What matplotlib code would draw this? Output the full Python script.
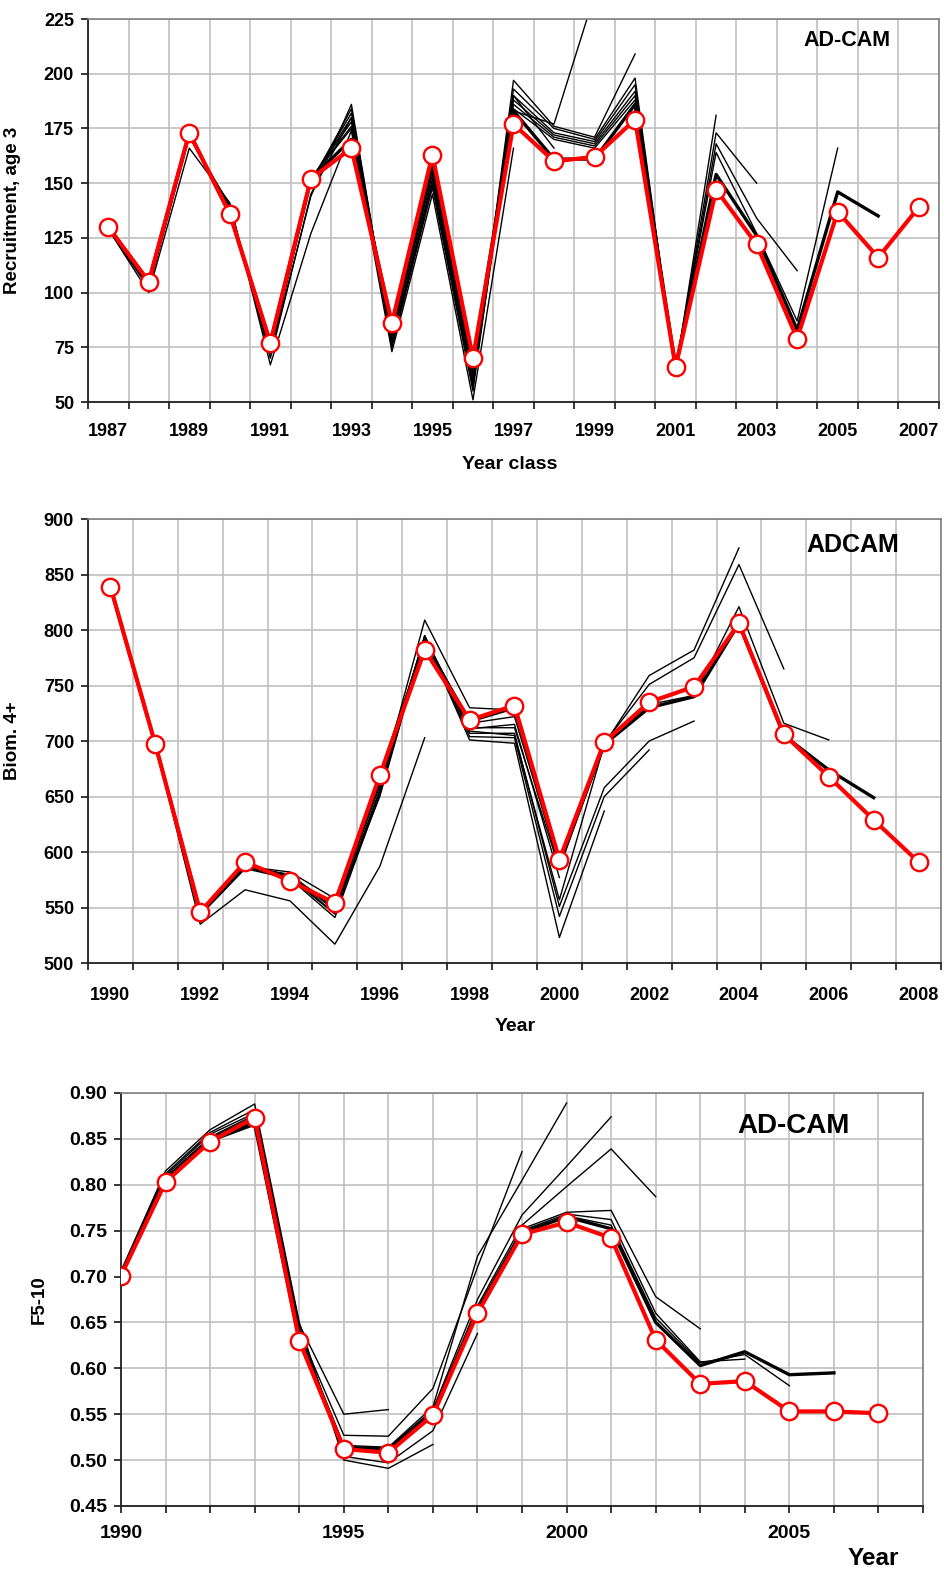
import numpy as np
import matplotlib
matplotlib.use("Agg")
import matplotlib.pyplot as plt

plt.rcParams['font.family'] = ['Liberation Sans', 'DejaVu Sans']
plt.rcParams['font.weight'] = 'bold'

# ---------------- Recruitment, age 3 (year classes 1987-2007)
rec_years = list(range(1987, 2008))
rec_final = [130, 105, 173, 136, 77, 152, 166, 86, 163, 70, 177, 160, 162, 179, 66, 147, 122, 79, 137, 116, 139]
rec_r97 = [129, 100, 166, 141, 67, 127, 174, 73, 145, 51, 166]
rec_r98 = [129, 102, 171, 140, 70, 145, 180, 75, 148, 55, 190, 166]
rec_r99 = [129, 103, 172, 139, 72, 144, 186, 76, 150, 58, 183, 177, 236]
rec_r00 = [129, 103, 172, 138, 73, 150, 184, 77, 150, 57, 197, 176, 171, 209]
rec_r01 = [129, 103, 172, 138, 74, 151, 182, 78, 152, 59, 193, 175, 170, 198, 62]
rec_r02 = [129, 104, 172, 137, 75, 151, 180, 80, 154, 61, 190, 173, 169, 195, 64, 181]
rec_r03 = [130, 104, 173, 137, 75, 152, 178, 81, 156, 63, 188, 172, 168, 192, 65, 173, 150]
rec_r04 = [130, 104, 173, 137, 76, 152, 176, 82, 157, 64, 186, 171, 167, 190, 65, 168, 134, 110]
rec_r05 = [130, 105, 173, 136, 76, 152, 175, 84, 158, 66, 184, 170, 166, 188, 66, 164, 127, 87, 166]
rec_r06 = [130, 105, 173, 136, 77, 152, 170, 85, 160, 68, 183, 161, 161, 186, 66, 154, 126, 83, 146, 135]
rec_retro = [rec_r97, rec_r98, rec_r99, rec_r00, rec_r01, rec_r02, rec_r03, rec_r04, rec_r05]

# ---------------- Biomass 4+ (1990-2008)
bio_years = list(range(1990, 2009))
bio_final = [839, 697, 546, 591, 574, 554, 669, 782, 719, 732, 593, 699, 735, 749, 806, 706, 668, 629, 591]
bio_r97 = [839, 697, 535, 566, 556, 517, 587, 703]
bio_r98 = [839, 697, 544, 586, 580, 548, 650, 793, 716]
bio_r99 = [839, 697, 545, 587, 582, 558, 660, 809, 730, 728]
bio_r00 = [839, 697, 544, 586, 578, 545, 655, 795, 711, 715, 577]
bio_r01 = [839, 697, 543, 585, 576, 541, 652, 793, 701, 698, 523, 637]
bio_r02 = [839, 697, 544, 586, 577, 544, 656, 794, 704, 703, 542, 650, 692]
bio_r03 = [839, 697, 545, 587, 578, 548, 660, 795, 707, 707, 551, 658, 700, 718]
bio_r04 = [839, 697, 545, 588, 579, 550, 662, 794, 709, 705, 557, 697, 759, 782, 874]
bio_r05 = [839, 697, 546, 588, 579, 551, 664, 793, 712, 712, 585, 698, 751, 775, 859, 765]
bio_r06 = [839, 697, 546, 589, 577, 552, 666, 791, 716, 722, 588, 697, 733, 741, 821, 716, 701]
bio_r07 = [839, 697, 546, 590, 575, 553, 668, 788, 718, 730, 590, 697, 730, 740, 806, 705, 674, 649]
bio_retro = [bio_r97, bio_r98, bio_r99, bio_r00, bio_r01, bio_r02, bio_r03, bio_r04, bio_r05, bio_r06]

# ---------------- F5-10 (1990-2007)
f_years = list(range(1990, 2008))
f_final = [0.701, 0.803, 0.847, 0.873, 0.630, 0.512, 0.508, 0.549, 0.660, 0.746, 0.759, 0.742,
           0.631, 0.583, 0.586, 0.553, 0.553, 0.551]
f_r96 = [0.705, 0.810, 0.855, 0.878, 0.648, 0.550, 0.555]
f_r97 = [0.706, 0.815, 0.860, 0.888, 0.650, 0.500, 0.491, 0.517]
f_r98 = [0.705, 0.812, 0.857, 0.882, 0.645, 0.504, 0.497, 0.532, 0.638]
f_r99 = [0.704, 0.808, 0.852, 0.876, 0.640, 0.527, 0.526, 0.578, 0.710, 0.836]
f_r00 = [0.704, 0.807, 0.851, 0.874, 0.637, 0.516, 0.514, 0.558, 0.722, 0.805, 0.889]
f_r01 = [0.703, 0.806, 0.850, 0.872, 0.635, 0.515, 0.513, 0.555, 0.675, 0.767, 0.820, 0.874]
f_r02 = [0.703, 0.806, 0.850, 0.870, 0.633, 0.514, 0.512, 0.553, 0.668, 0.756, 0.798, 0.839, 0.787]
f_r03 = [0.702, 0.805, 0.849, 0.869, 0.632, 0.513, 0.511, 0.552, 0.665, 0.752, 0.770, 0.772, 0.678, 0.643]
f_r04 = [0.702, 0.805, 0.849, 0.868, 0.632, 0.513, 0.511, 0.552, 0.664, 0.750, 0.768, 0.762, 0.660, 0.607, 0.610]
f_r05 = [0.702, 0.804, 0.848, 0.866, 0.631, 0.513, 0.511, 0.551, 0.663, 0.748, 0.766, 0.756, 0.655, 0.606, 0.615, 0.581]
f_r06 = [0.702, 0.804, 0.848, 0.866, 0.631, 0.513, 0.510, 0.551, 0.662, 0.748, 0.765, 0.752, 0.650, 0.603, 0.618, 0.593, 0.595]
f_retro = [f_r96, f_r97, f_r98, f_r99, f_r00, f_r01, f_r02, f_r03, f_r04, f_r05]

RED = '#ff0000'
GRID = '#c0c0c0'


def style(ax):
    ax.set_facecolor('white')
    ax.set_axisbelow(True)
    ax.grid(True, which='major', color=GRID, lw=1.2)
    for s in ['top', 'right']:
        ax.spines[s].set_color('#808080')
        ax.spines[s].set_linewidth(1.2)
    for s in ['left', 'bottom']:
        ax.spines[s].set_color('#202020')
        ax.spines[s].set_linewidth(1.3)
    ax.tick_params(which='major', direction='out', length=5, width=1.1, labelsize=13, pad=5)


def draw(ax, xs, retro, thick, final):
    for line in retro:
        ax.plot(xs[:len(line)], line, color='black', lw=1.0, zorder=2)
    ax.plot(xs[:len(thick)], thick, color='black', lw=2.4, zorder=3)
    ax.plot(xs[:len(final)], final, color=RED, lw=3.0, marker='o', ms=12.5,
            mfc='white', mec=RED, mew=1.7, zorder=4)


def cat_axis(ax, years, shown, pad):
    n = len(years)
    ax.set_xlim(-0.5, n - 0.5)
    ax.set_xticks(np.arange(-0.5, n, 1))
    ax.set_xticklabels([])
    ax.set_xticks(np.arange(n), minor=True)
    ax.set_xticklabels([str(y) if y in shown else '' for y in years], minor=True)
    ax.tick_params(axis='x', which='minor', length=0, labelsize=13, pad=pad)


fig = plt.figure(figsize=(9.44, 15.71), dpi=100)

# ---- panel 1
ax1 = fig.add_axes([0.0932, 0.7441, 0.9015, 0.2438])
style(ax1)
x1 = np.arange(len(rec_years))
draw(ax1, x1, rec_retro, rec_r06, rec_final)
cat_axis(ax1, rec_years, range(1987, 2008, 2), 15)
ax1.set_ylim(50, 225)
ax1.set_yticks(np.arange(50, 226, 25))
ax1.set_ylabel('Recruitment, age 3', fontsize=13.5, fontweight='bold')
ax1.yaxis.set_label_coords(-0.079, 0.5)
ax1.text(0.496, -0.162, 'Year class', transform=ax1.transAxes, ha='center', va='center', fontsize=14)
ax1.text(0.892, 0.944, 'AD-CAM', transform=ax1.transAxes, ha='center', va='center', fontsize=15.5)

# ---- panel 2
ax2 = fig.add_axes([0.0932, 0.3870, 0.9036, 0.2826])
style(ax2)
x2 = np.arange(len(bio_years))
draw(ax2, x2, bio_retro, bio_r07, bio_final)
cat_axis(ax2, bio_years, range(1990, 2009, 2), 17)
ax2.set_ylim(500, 900)
ax2.set_yticks(np.arange(500, 901, 50))
ax2.set_ylabel('Biom. 4+', fontsize=13.5, fontweight='bold')
ax2.yaxis.set_label_coords(-0.0785, 0.5)
ax2.text(0.5006, -0.143, 'Year', transform=ax2.transAxes, ha='center', va='center', fontsize=14)
ax2.text(0.896, 0.941, 'ADCAM', transform=ax2.transAxes, ha='center', va='center', fontsize=18)

# ---- panel 3
ax3 = fig.add_axes([0.1282, 0.0414, 0.8496, 0.2629])
style(ax3)
draw(ax3, np.array(f_years), f_retro, f_r06, f_final)
ax3.set_xlim(1990, 2008)
ax3.set_xticks(np.arange(1990, 2009, 1))
ax3.set_xticklabels([str(y) if y % 5 == 0 else '' for y in range(1990, 2009)])
ax3.tick_params(axis='x', labelsize=14, pad=9)
ax3.set_ylim(0.45, 0.90)
ax3.set_yticks(np.arange(0.45, 0.901, 0.05))
ax3.set_yticklabels(['%.2f' % v for v in np.arange(0.45, 0.901, 0.05)], fontsize=14)
ax3.set_ylabel('F5-10', fontsize=13.5, fontweight='bold')
ax3.yaxis.set_label_coords(-0.091, 0.5)
ax3.text(0.938, -0.128, 'Year', transform=ax3.transAxes, ha='center', va='center', fontsize=17.5)
ax3.text(0.838, 0.92, 'AD-CAM', transform=ax3.transAxes, ha='center', va='center', fontsize=20)

fig.savefig('out.png', dpi=100, facecolor='white')
